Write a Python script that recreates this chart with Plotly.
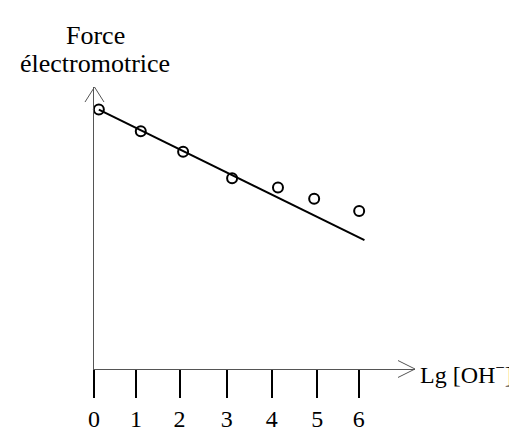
import plotly.graph_objects as go

# ---- data ----
x_points = [0.11, 1.06, 2.02, 3.13, 4.17, 4.99, 6.01]
y_points = [27.6, 25.3, 23.1, 20.3, 19.3, 18.1, 16.8]
fit_x = [0.11, 6.13]
fit_y = [27.6, 13.7]
tick_positions = [0.0, 0.95, 1.94, 3.01, 4.03, 5.06, 6.0]
tick_labels = ["0", "1", "2", "3", "4", "5", "6"]
y_title_lines = ["Force", "électromotrice"]
x_title = "Lg [OH<sup>−</sup>]"

W, H = 517, 436
L, R, T, B = 86, 110, 79, 57
PW, PH = W - L - R, H - T - B
FONT = "Liberation Serif, Times New Roman, serif"


def px(xp):
    return (xp - L) / PW


def py(yp):
    return (H - B - yp) / PH


fig = go.Figure()
fig.add_trace(go.Scatter(x=fit_x, y=fit_y, mode="lines",
                         line=dict(color="black", width=2), hoverinfo="skip",
                         cliponaxis=False))
fig.add_trace(go.Scatter(x=x_points, y=y_points, mode="markers",
                         marker=dict(symbol="circle-open", size=10, color="black",
                                     line=dict(color="black", width=2)),
                         cliponaxis=False))

shapes = [
    # vertical arrow head
    dict(type="path", xref="paper", yref="paper",
         path=f"M {px(77)},{py(95)} L {px(86.5)},{py(79)} L {px(96)},{py(95)}",
         line=dict(color="#555", width=1)),
    # horizontal arrow head
    dict(type="path", xref="paper", yref="paper",
         path=f"M {px(390)},{py(370)} L {px(407)},{py(379)} L {px(390)},{py(388)}",
         line=dict(color="#555", width=1)),
]

annotations = [
    dict(text=y_title_lines[0], xref="paper", yref="paper", x=px(87), y=py(24),
         xanchor="center", yanchor="middle", showarrow=False, borderpad=0,
         font=dict(family=FONT, size=26, color="black")),
    dict(text=y_title_lines[1], xref="paper", yref="paper", x=px(87), y=py(54),
         xanchor="center", yanchor="middle", showarrow=False, borderpad=0,
         font=dict(family=FONT, size=26, color="black")),
    dict(text=x_title, xref="paper", yref="paper", x=px(411), y=py(383),
         xanchor="left", yanchor="middle", showarrow=False, borderpad=0,
         font=dict(family=FONT, size=24, color="black")),
]

fig.update_layout(
    width=W, height=H,
    margin=dict(l=L, r=R, t=T, b=B, pad=0),
    paper_bgcolor="white", plot_bgcolor="white",
    showlegend=False,
    shapes=shapes, annotations=annotations,
    xaxis=dict(range=[0, PW / 44.12], showgrid=False, zeroline=False,
               showline=True, linecolor="#555", linewidth=1,
               ticks="outside", ticklen=28, tickwidth=2, tickcolor="black",
               tickvals=tick_positions, ticktext=tick_labels,
               tickfont=dict(family=FONT, size=24, color="black")),
    yaxis=dict(range=[0, 30], showgrid=False, zeroline=False,
               showline=True, linecolor="#555", linewidth=1,
               ticks="", showticklabels=False),
)

fig.write_html("out.html")
